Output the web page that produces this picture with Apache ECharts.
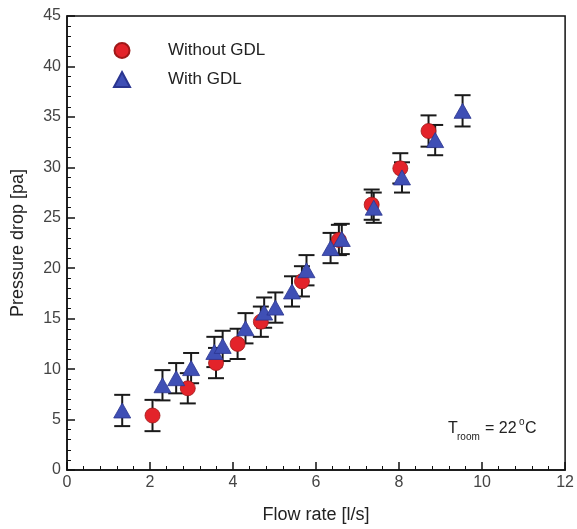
<!DOCTYPE html>
<html>
<head>
<meta charset="utf-8">
<script src="https://cdn.jsdelivr.net/npm/echarts@6/dist/echarts.min.js"></script>
<style>html,body{margin:0;padding:0;background:#fff;}#c{width:577px;height:529px;}</style>
</head>
<body>
<div id="c"></div>
<script>
// Data
const flowWithout = [2.06, 2.91, 3.59, 4.11, 4.67, 5.66, 6.55, 7.34, 8.03, 8.71];
const dpWithout   = [5.4, 8.1, 10.6, 12.5, 14.7, 18.7, 22.8, 26.3, 29.9, 33.6];
const errWithout  = [1.55, 1.5, 1.5, 1.5, 1.5, 1.5, 1.5, 1.5, 1.5, 1.55];

const flowWith = [1.33, 2.3, 2.63, 2.99, 3.55, 3.75, 4.3, 4.75, 5.02, 5.42, 5.77, 6.35, 6.62, 7.39, 8.07, 8.87, 9.53];
const dpWith   = [5.9, 8.4, 9.1, 10.1, 11.7, 12.3, 14.05, 15.6, 16.1, 17.7, 19.8, 22.0, 22.9, 26.0, 29.0, 32.7, 35.6];
const errWith  = [1.55, 1.5, 1.5, 1.5, 1.5, 1.5, 1.5, 1.5, 1.5, 1.5, 1.5, 1.5, 1.5, 1.5, 1.5, 1.5, 1.55];

const xTicks = [0, 2, 4, 6, 8, 10, 12];
const yTicks = [0, 5, 10, 15, 20, 25, 30, 35, 40, 45];

const nameWithout = 'Without GDL';
const nameWith = 'With GDL';
const xTitle = 'Flow rate [l/s]';
const yTitle = 'Pressure drop [pa]';

const FONT = '"Liberation Sans", Arial, sans-serif';

function zip3(a, b, c) { return a.map((v, i) => [v, b[i], c[i]]); }

function errRender(params, api) {
  const x = api.value(0), y = api.value(1), e = api.value(2);
  const top = api.coord([x, y + e]);
  const bot = api.coord([x, y - e]);
  const w = 8;
  const st = { stroke: '#1a1a1a', lineWidth: 2 };
  return {
    type: 'group',
    children: [
      { type: 'line', shape: { x1: top[0], y1: top[1], x2: bot[0], y2: bot[1] }, style: st },
      { type: 'line', shape: { x1: top[0] - w, y1: top[1], x2: top[0] + w, y2: top[1] }, style: st },
      { type: 'line', shape: { x1: bot[0] - w, y1: bot[1], x2: bot[0] + w, y2: bot[1] }, style: st }
    ]
  };
}

const chart = echarts.init(document.getElementById('c'), null, { renderer: 'canvas' });
chart.setOption({
  backgroundColor: '#fff',
  animation: false,
  textStyle: { fontFamily: FONT },
  grid: { left: 67, right: 10, top: 16, bottom: 56, show: true, borderColor: '#111', borderWidth: 1.5, backgroundColor: 'transparent' },
  legend: {
    orient: 'vertical', left: 108, top: 37, itemWidth: 16, itemHeight: 15, itemGap: 12,
    data: [nameWithout, nameWith],
    textStyle: { fontFamily: FONT, fontSize: 17, color: '#222', padding: [0, 0, 0, 33] }
  },
  xAxis: {
    type: 'value', min: xTicks[0], max: xTicks[xTicks.length - 1], interval: 2,
    name: xTitle, nameLocation: 'middle', nameGap: 36,
    nameTextStyle: { fontFamily: FONT, fontSize: 18, color: '#222' },
    axisLine: { show: true, lineStyle: { color: '#111', width: 1.5 } },
    axisTick: { show: true, inside: true, length: 8, lineStyle: { color: '#111', width: 1.5 } },
    minorTick: { show: true, splitNumber: 5, length: 4, lineStyle: { color: '#111', width: 1 } },
    axisLabel: { fontFamily: FONT, fontSize: 16, color: '#444', margin: 5 },
    splitLine: { show: false }
  },
  yAxis: {
    type: 'value', min: yTicks[0], max: yTicks[yTicks.length - 1], interval: 5,
    name: yTitle, nameLocation: 'middle', nameGap: 40, nameRotate: 90,
    nameTextStyle: { fontFamily: FONT, fontSize: 18, color: '#222' },
    axisLine: { show: true, lineStyle: { color: '#111', width: 1.5 } },
    axisTick: { show: true, inside: true, length: 8, lineStyle: { color: '#111', width: 1.5 } },
    minorTick: { show: true, splitNumber: 5, length: 4, lineStyle: { color: '#111', width: 1 } },
    axisLabel: { fontFamily: FONT, fontSize: 16, color: '#444', margin: 6 },
    splitLine: { show: false }
  },
  series: [
    {
      name: nameWithout + ' error', type: 'custom', renderItem: errRender,
      data: zip3(flowWithout, dpWithout, errWithout), z: 2, silent: true
    },
    {
      name: nameWith + ' error', type: 'custom', renderItem: errRender,
      data: zip3(flowWith, dpWith, errWith), z: 2, silent: true
    },
    {
      name: nameWithout, type: 'scatter', symbol: 'circle', symbolSize: 15,
      itemStyle: { color: '#e3232a', borderColor: '#a01818', borderWidth: 0.8, opacity: 1 },
      data: flowWithout.map((v, i) => [v, dpWithout[i]]), z: 3
    },
    {
      name: nameWith, type: 'scatter', symbol: 'triangle', symbolSize: [17, 15],
      itemStyle: { color: '#3f4fb5', borderColor: '#2a3590', borderWidth: 0.8, opacity: 1 },
      data: flowWith.map((v, i) => [v, dpWith[i]]), z: 4
    }
  ],
  graphic: [
    { type: 'text', left: 448, top: 421, style: { text: 'T', font: '16px ' + FONT, fill: '#222' } },
    { type: 'text', left: 457, top: 432, style: { text: 'room', font: '10px ' + FONT, fill: '#222' } },
    { type: 'text', left: 485, top: 421, style: { text: '= 22', font: '16px ' + FONT, fill: '#222' } },
    { type: 'text', left: 519, top: 417, style: { text: 'o', font: '10px ' + FONT, fill: '#222' } },
    { type: 'text', left: 525, top: 421, style: { text: 'C', font: '16px ' + FONT, fill: '#222' } }
  ]
});
</script>
</body>
</html>
